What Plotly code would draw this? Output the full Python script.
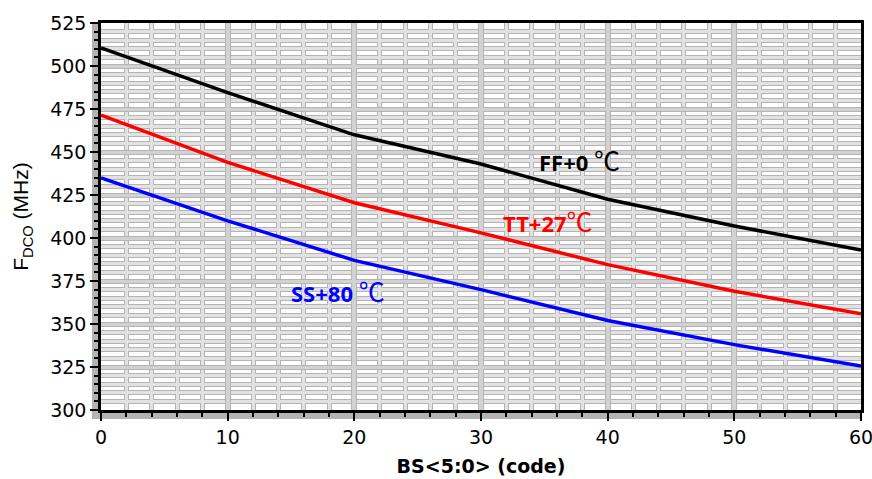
import plotly.graph_objects as go

# Oscillator frequency vs. band-select code for three process/temperature corners
codes = [0, 10, 20, 30, 40, 50, 60]
f_ff_0c = [510.5, 484.5, 460.0, 443.0, 422.5, 407.0, 393.0]
f_tt_27c = [471.5, 444.0, 420.5, 403.0, 384.5, 369.0, 356.0]
f_ss_80c = [435.0, 410.0, 387.0, 370.0, 352.0, 338.0, 325.5]

corner_names = ["FF+0 ", "TT+27", "SS+80 "]
corner_colors = ["#000000", "#ff0000", "#0000ff"]

x_range = [0, 60]
y_range = [300, 525]

DEG = '<span style="font-family:Noto Sans CJK TC;font-weight:normal;font-size:26px">℃</span>'

fig = go.Figure()
for series, name, color in zip([f_ff_0c, f_tt_27c, f_ss_80c], corner_names, corner_colors):
    fig.add_trace(go.Scatter(
        x=codes, y=series, mode="lines", name=name + "℃",
        line=dict(color=color, width=3.5), showlegend=False,
    ))

# empty trace so the overlay axes (second grid pass) exist
fig.add_trace(go.Scatter(x=[], y=[], xaxis="x2", yaxis="y2",
                         showlegend=False, hoverinfo="skip"))

tick_font = dict(family="DejaVu Sans", size=19, color="#000000")

# Grid drawn twice: a wide darker pass under a narrow light pass,
# which leaves white cells with grey outlines.
dark = "#b4b4b4"
light_minor = "#e2e2e2"
light_major = "#d2d2d2"

fig.update_layout(
    width=872, height=479,
    margin=dict(l=101, r=11, t=23, b=69, autoexpand=False),
    paper_bgcolor="#ffffff",
    plot_bgcolor="#ffffff",
    xaxis=dict(
        range=x_range, tick0=0, dtick=10, automargin=False,
        ticklabeloverflow="allow",
        showgrid=True, gridcolor=dark, gridwidth=6,
        minor=dict(dtick=2, showgrid=True, gridcolor=dark, gridwidth=5,
                   ticks="outside", ticklen=4, tickwidth=2, tickcolor="#000000"),
        ticks="outside", ticklen=8, tickwidth=2, tickcolor="#000000",
        showline=True, linecolor="#000000", linewidth=2.5, mirror=True,
        zeroline=False, tickfont=tick_font,
        title=dict(text="<b>BS&lt;5:0&gt; (code)</b>",
                   font=dict(family="DejaVu Sans", size=19, color="#000000"),
                   standoff=14),
    ),
    yaxis=dict(
        range=y_range, tick0=300, dtick=25, automargin=False,
        ticklabeloverflow="allow",
        showgrid=True, gridcolor=dark, gridwidth=5,
        minor=dict(dtick=5, showgrid=True, gridcolor=dark, gridwidth=4.5,
                   ticks="outside", ticklen=4, tickwidth=2, tickcolor="#000000"),
        ticks="outside", ticklen=8, tickwidth=2, tickcolor="#000000",
        showline=True, linecolor="#000000", linewidth=2.5, mirror=True,
        zeroline=False, tickfont=tick_font,
        title=dict(text="F<sub>DCO</sub> (MHz)",
                   font=dict(family="Liberation Sans", size=21, color="#000000"),
                   standoff=16),
    ),
    xaxis2=dict(
        overlaying="x", range=x_range, tick0=0, dtick=10,
        showgrid=True, gridcolor=light_major, gridwidth=4,
        minor=dict(dtick=2, showgrid=True, gridcolor=light_minor, gridwidth=3),
        showticklabels=False, ticks="", showline=False, zeroline=False,
    ),
    yaxis2=dict(
        overlaying="y", range=y_range, tick0=300, dtick=25,
        showgrid=True, gridcolor=light_major, gridwidth=3,
        minor=dict(dtick=5, showgrid=True, gridcolor=light_minor, gridwidth=2.5),
        showticklabels=False, ticks="", showline=False, zeroline=False,
    ),
)

# grey bands behind the left and bottom tick marks
band = "#b3b3b3"
fig.add_shape(type="rect", layer="below", xref="paper", yref="paper",
              xsizemode="pixel", xanchor=0, x0=-9, x1=0, y0=0, y1=1,
              line=dict(width=0), fillcolor=band)
fig.add_shape(type="rect", layer="below", xref="paper", yref="paper",
              ysizemode="pixel", yanchor=0, y0=-9, y1=0, x0=-0.012, x1=1,
              line=dict(width=0), fillcolor=band)

label_font = dict(family="Noto Sans", size=22)
fig.add_annotation(x=37.8, y=445.8, text="<b>" + corner_names[0] + "</b>" + DEG,
                   showarrow=False, xanchor="center", yanchor="middle",
                   font=dict(color=corner_colors[0], **label_font))
fig.add_annotation(x=35.3, y=409.9, text="<b>" + corner_names[1] + "</b>" + DEG,
                   showarrow=False, xanchor="center", yanchor="middle",
                   font=dict(color=corner_colors[1], **label_font))
fig.add_annotation(x=18.7, y=369.2, text="<b>" + corner_names[2] + "</b>" + DEG,
                   showarrow=False, xanchor="center", yanchor="middle",
                   font=dict(color=corner_colors[2], **label_font))

fig.write_html("out.html")
